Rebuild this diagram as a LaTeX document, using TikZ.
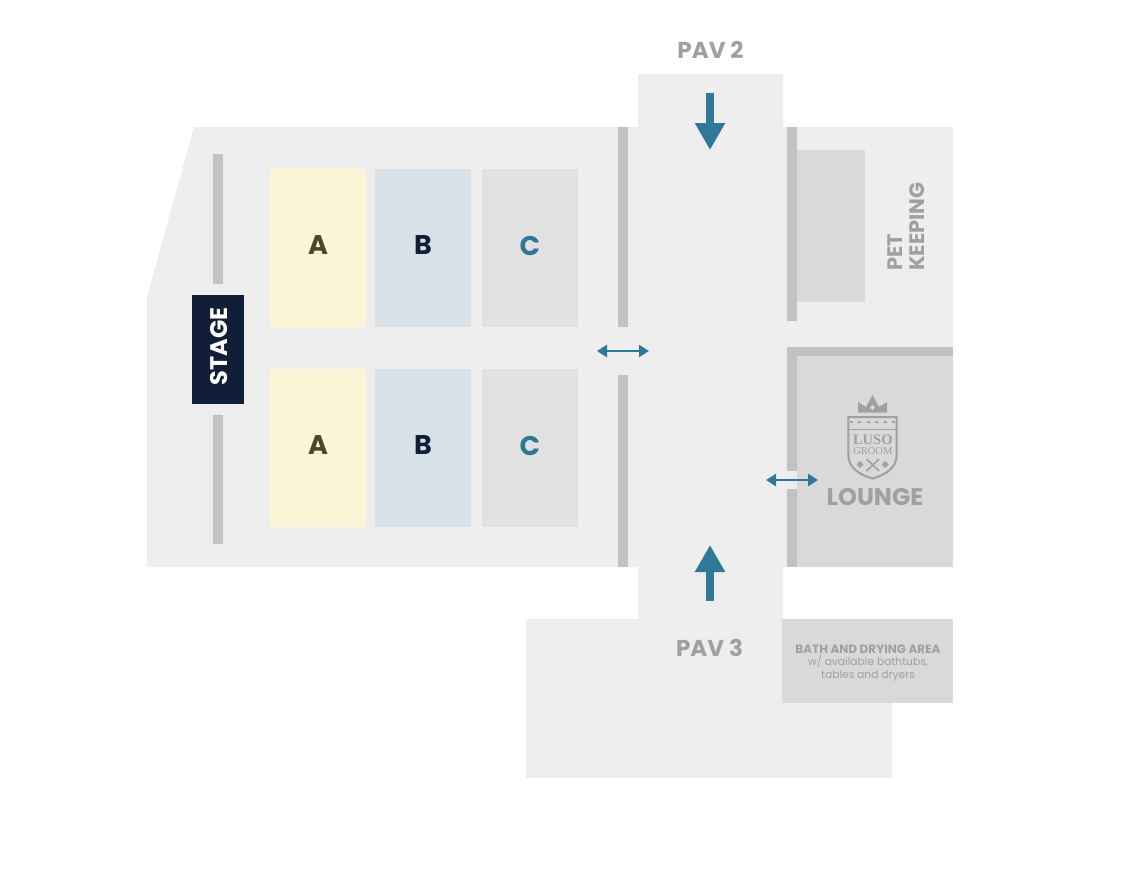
\documentclass[tikz,border=0pt]{standalone}
\usepackage{fontspec}
\setmainfont{Poppins}
\newfontfamily\logofont{Liberation Serif}
\usetikzlibrary{arrows.meta}
\definecolor{floorgray}{HTML}{EEEEEE}
\definecolor{wallgray}{HTML}{C2C2C2}
\definecolor{roomgray}{HTML}{D9D9D9}
\definecolor{labelgray}{HTML}{A0A0A0}
\definecolor{seatc}{HTML}{E1E1E1}
\definecolor{seata}{HTML}{FBF5D6}
\definecolor{seatb}{HTML}{D6E1E9}
\definecolor{stageblue}{HTML}{101E38}
\definecolor{teal}{HTML}{2F7897}
\definecolor{olive}{HTML}{4D4726}
\tikzset{
	seat/.style={rectangle,minimum width=96pt,minimum height=158pt,inner sep=0pt},
	seatletter/.style={inner sep=0pt,font=\bfseries\fontsize{27}{27}\selectfont},
	wall/.style={fill=wallgray},
	biglabel/.style={text=labelgray,font=\bfseries\fontsize{23}{23}\selectfont},
	bigarrow/.style={draw=teal,line width=8pt,-{Triangle[length=27pt,width=28.5pt]}},
	door/.style={draw=teal,line width=2.6pt,{Triangle[length=10pt,width=12pt]}-{Triangle[length=10pt,width=12pt]}},
}
\begin{document}
\begin{tikzpicture}[x=1pt,y=-1pt]
	\useasboundingbox (0,0) rectangle (1135,879);
	\fill[white] (0,0) rectangle (1135,879);

	% floor
	\fill[floorgray] (194,127) -- (638,127) -- (638,74) -- (783,74) -- (783,127) -- (953,127)
		-- (953,567) -- (783,567) -- (783,619) -- (892,619) -- (892,778) -- (526,778)
		-- (526,619) -- (638,619) -- (638,567) -- (147,567) -- (147,297) -- cycle;

	% rooms
	\fill[roomgray] (797,150) rectangle (865,302);
	\fill[roomgray] (797,356) rectangle (953,567);
	\fill[roomgray] (782,619) rectangle (953,702.5);

	% walls
	\fill[wall] (213,154) rectangle (223,284);
	\fill[wall] (213,415) rectangle (223,544);
	\fill[wall] (618,127) rectangle (628,327);
	\fill[wall] (618,375) rectangle (628,567);
	\fill[wall] (787,127) rectangle (797,321);
	\fill[wall] (787,347) rectangle (953,356);
	\fill[wall] (787,356) rectangle (797,471);
	\fill[wall] (787,489) rectangle (797,567);
	\fill[floorgray] (787,471) rectangle (797,489);

	% seats
	\node[seat,fill=seata] (a1) at (318,248) {};
	\node[seat,fill=seatb] (b1) at (423,248) {};
	\node[seat,fill=seatc] (c1) at (530,248) {};
	\node[seat,fill=seata] (a2) at (318,448) {};
	\node[seat,fill=seatb] (b2) at (423,448) {};
	\node[seat,fill=seatc] (c2) at (530,448) {};
	\node[seatletter,text=olive] (a1text) at (318,245.5) {A};
	\node[seatletter,text=stageblue] (b1text) at (423,245.5) {B};
	\node[seatletter,text=teal] (c1text) at (530,245.5) {C};
	\node[seatletter,text=olive] (a2text) at (318,445.5) {A};
	\node[seatletter,text=stageblue] (b2text) at (423,445.5) {B};
	\node[seatletter,text=teal] (c2text) at (530,445.5) {C};

	\node[rectangle,fill=stageblue,minimum width=52.5pt,minimum height=109.5pt,inner sep=0pt] (stage) at (218,349.5) {};
	\node[rotate=90,text=white,font=\bfseries\fontsize{24}{24}\selectfont] (stagetext) at (219,346.5) {STAGE};

	% labels
	\node[biglabel] (pav2) at (710.5,50) {PAV 2};
	\node[biglabel] (pav3) at (709.5,648) {PAV 3};
	\node[rotate=90,align=left,text=labelgray,font=\bfseries\fontsize{21}{22}\selectfont] (pet) at (906,226.5) {PET\\KEEPING};
	\node[biglabel,font=\bfseries\fontsize{24}{24}\selectfont] (lounge) at (875,497.5) {LOUNGE};
	\node[align=center,text=labelgray,font=\fontsize{10.7}{12.5}\selectfont] (bath) at (868,663)
		{{\bfseries\fontsize{12}{12.5}\selectfont BATH AND DRYING AREA}\\w/ available bathtubs,\\tables and dryers};

	% logo
	\fill[labelgray] (858,412.7) -- (858,402) -- (866,407) -- (872.5,395) -- (879,407) -- (887,402) -- (887,412.7) -- cycle;
	\fill[roomgray] (872.5,405) -- (875,407.5) -- (872.5,410) -- (870,407.5) -- cycle;
	\draw[labelgray,line width=2pt] (848.3,417) -- (896.7,417) -- (896.7,455)
		.. controls (896.7,468) and (885,475) .. (872.5,478.5) .. controls (860,475) and (848.3,468) .. (848.3,455) -- cycle;
	\draw[labelgray,line width=1.3pt] (849,429.5) -- (896,429.5);
	\foreach \i in {858,866.5,875,883.5}
		\fill[roomgray] (\i,418.5) rectangle (\i+3,421);
	\foreach \i in {850,858,866.5,875,883.5,892}
		\fill[labelgray] (\i,421) rectangle (\i+3,423);
	\node[text=labelgray,inner sep=0pt,font=\logofont\bfseries\fontsize{14.5}{14.5}\selectfont] (luso) at (872.8,439.5) {LUSO};
	\node[text=labelgray,inner sep=0pt,font=\logofont\fontsize{10.5}{10.5}\selectfont] (groom) at (872.8,451.5) {GROOM};
	\draw[labelgray,line width=1.6pt] (866.5,471) -- (879,459) (879,471) -- (866.5,459);
	\fill[labelgray] (860,461) -- (863.5,464.5) -- (860,468) -- (856.5,464.5) -- cycle;
	\fill[labelgray] (885,461) -- (888.5,464.5) -- (885,468) -- (881.5,464.5) -- cycle;

	% arrows
	\coordinate (pav2top) at (710,93);
	\coordinate (pav2tip) at (710,150);
	\coordinate (pav3bot) at (710,601);
	\coordinate (pav3tip) at (710,545);
	\coordinate (doorl) at (597,351);
	\coordinate (doorr) at (649,351);
	\coordinate (loungel) at (766,480);
	\coordinate (lounger) at (818,480);
	\draw[bigarrow] (pav2top) -- (pav2tip);
	\draw[bigarrow] (pav3bot) -- (pav3tip);
	\draw[door] (doorl) -- (doorr);
	\draw[door] (loungel) -- (lounger);
\end{tikzpicture}
\end{document}
